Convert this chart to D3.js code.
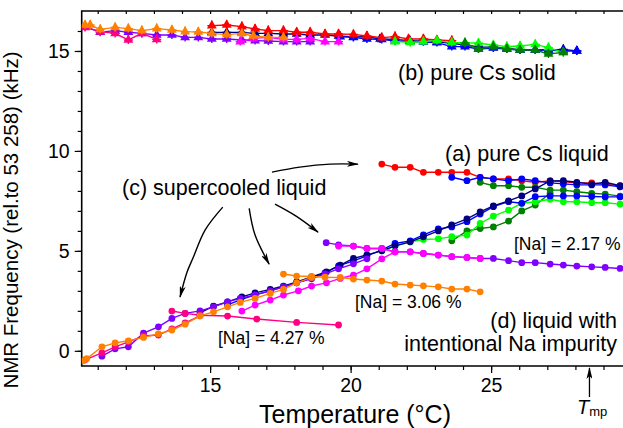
<!DOCTYPE html>
<html>
<head>
<meta charset="utf-8">
<script src="https://cdn.jsdelivr.net/npm/d3@7"></script>
<style>
  body { margin: 0; background: #fff; }
  svg { font-family: "Liberation Sans", Arial, sans-serif; }
</style>
</head>
<body>
<script>
    // --- data: [temperature (°C), frequency (kHz)] ---
    // (b) pure Cs solid
    var solidOrange = [[10.55,16.3],[10.73,16.3],[11.09,16.08],[11.62,16.18],[12.09,16.12],[12.57,16.02],[13.10,16.12],[13.64,16.05],[14.11,15.97],[14.58,15.95],[15.06,15.88],[15.59,15.82],[16.13,15.88],[16.54,15.75],[17.07,15.68],[17.61,15.68]];
    var solidPink = [[10.55,16.18],[11.09,15.97],[11.62,15.88],[12.09,15.55],[12.57,15.88],[13.10,15.58]];
    var solidPurple = [[10.55,16.22],[11.09,15.94],[11.62,16.02],[12.09,15.94],[12.57,15.88],[13.10,15.80],[13.64,15.80],[14.11,15.68],[14.58,15.68],[15.06,15.6],[15.59,15.6],[16.13,15.55],[16.6,15.52],[17.07,15.5],[17.61,15.47],[18.08,15.47],[18.56,15.47]];
    var solidRed = [[15.06,16.27],[15.59,16.30],[16.13,16.22],[16.6,16.10],[17.07,16.02],[17.61,16.02],[18.08,15.94],[18.56,15.94],[19.09,15.85],[19.57,15.85],[20.1,15.83],[20.58,15.75],[21.11,15.67],[21.58,15.72],[22.06,15.6],[22.59,15.6],[23.07,15.55],[23.6,15.52]];
    var solidNavy = [[15.06,15.93],[15.59,15.93],[16.13,15.93],[16.6,15.88],[17.07,15.88],[17.61,15.85],[18.08,15.85],[18.56,15.8],[19.09,15.8],[19.57,15.75],[20.1,15.7],[20.58,15.72],[21.05,15.6],[21.58,15.58],[22.1,15.52],[22.59,15.5],[23.07,15.46],[23.6,15.38],[24.07,15.3],[24.55,15.2],[25.08,15.18],[25.56,15.13],[26.03,15.05],[26.57,15.06],[27.04,15.05],[27.57,15.08],[28.05,15.0]];
    var solidMagenta = [[16.07,15.47],[16.54,15.63],[17.07,15.68],[17.61,15.58],[18.08,15.58],[18.56,15.63],[19.09,15.47],[19.57,15.47]];
    var solidBlue = [[19.63,15.72],[20.1,15.68],[20.58,15.6],[21.11,15.58],[21.58,15.5],[22.12,15.48],[22.59,15.45],[23.07,15.42],[23.6,15.22],[24.07,15.22],[24.55,15.1],[25.08,15.15],[25.56,15.1],[26.03,15.05],[26.57,15.05],[27.04,15.05],[27.57,15.0],[28.05,15.0]];
    var solidGreen = [[21.58,15.47],[22.12,15.43],[22.59,15.47],[23.07,15.52],[23.6,15.42],[24.07,15.42],[24.55,15.39],[25.08,15.3],[25.56,15.22],[26.03,15.25],[26.57,15.33],[27.04,15.17],[27.57,14.93]];
    var solidDkGreen = [[24.07,15.39],[24.55,15.1],[25.08,15.22],[25.56,15.1],[26.03,15.05],[26.57,15.05],[27.04,14.85],[27.57,14.93]];

    // (a) pure Cs liquid / supercooled liquid
    var liqRed = [[21.11,9.34],[21.58,9.18],[22.12,9.18],[22.59,8.93],[23.12,8.93],[23.6,8.93],[24.14,8.93],[24.61,8.68],[25.08,8.6],[25.62,8.6],[26.09,8.51],[26.57,8.43],[27.1,8.5],[27.57,8.45],[28.05,8.4],[28.58,8.4],[29.06,8.34],[29.59,8.25]];
    var liqBlue = [[23.6,8.68],[24.14,8.51],[24.61,8.68],[25.08,8.6],[25.62,8.51],[26.09,8.6],[26.57,8.51],[27.1,8.4],[27.57,8.35],[28.05,8.3],[28.58,8.3],[29.06,8.3],[29.59,8.2]];
    var liqDkGreen = [[24.61,8.43],[25.08,8.26],[25.62,8.26],[26.09,8.18],[26.57,8.18],[27.1,8.04],[27.57,8.04],[28.05,7.96],[28.58,7.88],[29.06,7.84],[29.59,7.74]];

    // rising branches
    var riseNavy = [[14.64,1.9],[15.12,2.24],[15.62,2.45],[16.13,2.70],[16.6,2.9],[17.14,3.07],[17.61,3.24],[18.08,3.45],[18.61,3.70],[19.14,3.95],[19.63,4.29],[20.1,4.62],[20.58,4.8],[21.11,5.0],[21.58,5.25],[22.12,5.45],[22.59,5.7],[23.12,6.0],[23.6,6.3],[24.14,6.6],[24.61,6.95],[25.08,7.25],[25.62,7.5],[26.09,7.75],[26.57,8.1],[27.1,8.5],[27.57,8.51],[28.05,8.43],[28.58,8.34],[29.06,8.43],[29.59,8.26]];
    var riseBlue = [[15.62,2.3],[16.07,2.55],[16.6,2.8],[17.14,3.0],[17.61,3.2],[18.08,3.4],[18.61,3.65],[19.09,3.9],[19.57,4.25],[20.1,4.5],[20.58,4.75],[21.11,5.05],[21.58,5.37],[22.12,5.5],[22.59,5.8],[23.12,6.1],[23.6,6.2],[24.14,6.46],[24.61,6.84],[25.08,7.21],[25.62,7.46],[26.09,7.38],[26.57,7.71],[27.1,7.75],[27.57,7.75],[28.05,7.75],[28.58,7.72],[29.06,7.7],[29.59,7.7]];
    var riseGreen = [[21.11,5.0],[21.58,5.24],[22.12,5.45],[22.59,5.57],[23.12,5.6],[23.6,5.71],[24.14,5.79],[24.61,6.37],[25.08,6.74],[25.62,7.04],[26.09,7.38],[26.57,7.46],[27.1,7.58],[27.57,7.46],[28.05,7.46],[28.58,7.41],[29.06,7.41],[29.59,7.34]];
    var riseDkGreen = [[23.6,5.5],[24.14,6.0],[24.61,6.12],[25.08,6.2],[25.62,6.49],[26.09,7.0],[26.57,7.29],[27.1,7.88]];
    var risePurple = [[11.15,-0.27],[11.62,0.10],[12.09,0.20],[12.63,0.88],[13.16,1.20],[13.64,1.62],[14.11,1.87],[14.64,2.0],[15.12,2.2],[15.62,2.45],[16.07,2.62],[16.6,2.8],[17.14,3.0],[17.61,3.2],[18.08,3.4],[18.61,3.6],[19.09,3.85],[19.57,4.1],[20.1,4.35],[20.58,4.6]];
    var riseOrange = [[10.49,-0.5],[10.61,-0.39],[11.15,0.20],[11.62,0.40],[12.09,0.50],[12.63,0.67],[13.16,0.85],[13.64,1.04],[14.11,1.33],[14.64,1.75],[15.12,1.95],[15.62,2.20],[16.07,2.42],[16.6,2.62],[17.14,2.87],[17.61,3.07],[18.08,3.40],[18.61,3.67]];
    var risePink = [[10.55,-0.45],[11.15,-0.1],[11.62,0.2],[12.09,0.45],[12.63,0.74],[13.16,0.79],[13.64,1.1],[14.11,1.4],[14.64,1.75]];
    var riseMagenta = [[16.13,1.99],[16.6,2.29],[17.14,2.54],[17.61,2.79],[18.14,3.0],[18.61,3.24],[19.14,3.40],[19.63,3.62],[20.1,3.79],[20.58,4.1],[21.11,4.6],[21.58,4.95]];

    // (d) liquid with Na impurity
    var na217 = [[19.13,5.41],[19.57,5.3],[20.1,5.24],[20.58,5.12],[21.11,5.12],[21.58,4.95],[22.12,4.95],[22.59,4.87],[23.12,4.79],[23.6,4.71],[24.14,4.67],[24.61,4.62],[25.08,4.62],[25.62,4.51],[26.09,4.41],[26.57,4.41],[27.1,4.34],[27.57,4.29],[28.05,4.24],[28.58,4.2],[29.06,4.17],[29.59,4.12]];
    var na217b = [[19.57,5.24],[20.1,5.24],[20.58,5.12],[21.11,5.12],[21.58,4.95],[22.12,4.95],[22.59,4.87],[23.12,4.79],[23.6,4.71],[24.14,4.67],[24.61,4.62]];
    var na306 = [[17.61,3.84],[18.08,3.74],[18.61,3.72],[19.09,3.68],[19.63,3.67],[20.1,3.59],[20.58,3.54],[21.11,3.49],[21.58,3.34],[22.12,3.29],[22.59,3.25],[23.12,3.2],[23.6,3.09],[24.14,3.09],[24.61,2.95]];
    var na427 = [[13.64,1.99],[14.11,1.87],[14.64,1.78],[15.62,1.74],[16.66,1.59],[18.08,1.42],[19.57,1.29]];

    var xTicks = [15, 20, 25];
    var yTicks = [0, 5, 10, 15];
    var tMelt = 28.5;

    var width = 623;
    var height = 428;
    var svg, xScale, yScale;

    var setup = () => {
        svg = d3.select('body').append('svg')
            .attr('width', width)
            .attr('height', height);

        xScale = d3.scaleLinear().domain([10.43, 29.8]).range([81.7, 626]);
        yScale = d3.scaleLinear().domain([-0.76, 17]).range([366, 11]);

        var defs = svg.append('defs');
        defs.append('marker')
            .attr('id', 'head')
            .attr('viewBox', '0 0 12 6')
            .attr('refX', 11).attr('refY', 3)
            .attr('markerWidth', 12).attr('markerHeight', 6)
            .attr('markerUnits', 'userSpaceOnUse')
            .attr('orient', 'auto')
            .append('path')
            .attr('d', 'M0,0 L12,3 L0,6 L3,3 z')
            .attr('fill', '#000');
        defs.append('clipPath').attr('id', 'plot')
            .append('rect').attr('x', 81.7).attr('y', 11).attr('width', 560).attr('height', 355);
    };

    var axes = () => {
        var minor = d3.range(11, 30);
        svg.append('g')
            .attr('transform', 'translate(0,366)')
            .call(d3.axisBottom(xScale).tickValues(minor).tickSize(4).tickFormat(''))
            .call(g => g.select('.domain').remove());
        svg.append('g')
            .attr('transform', 'translate(0,366)')
            .call(d3.axisBottom(xScale).tickValues(xTicks).tickSize(7).tickPadding(5))
            .call(g => g.select('.domain').remove())
            .selectAll('text').attr('font-size', 19.5).attr('fill', '#000').attr('font-family', 'Liberation Sans, Arial, sans-serif');
        svg.append('g')
            .attr('transform', 'translate(0,11)')
            .call(d3.axisBottom(xScale).tickValues(minor).tickSize(3).tickFormat(''))
            .call(g => g.select('.domain').remove());

        svg.append('g')
            .attr('transform', 'translate(81.7,0)')
            .call(d3.axisLeft(yScale).tickValues(d3.range(0, 17)).tickSize(4).tickFormat(''))
            .call(g => g.select('.domain').remove());
        svg.append('g')
            .attr('transform', 'translate(81.7,0)')
            .call(d3.axisLeft(yScale).tickValues(yTicks).tickSize(7).tickPadding(5))
            .call(g => g.select('.domain').remove())
            .selectAll('text').attr('font-size', 19.5).attr('fill', '#000').attr('font-family', 'Liberation Sans, Arial, sans-serif');

        svg.selectAll('.tick line').attr('stroke', '#000').attr('stroke-width', 1.2);

        // frame
        svg.append('path')
            .attr('d', 'M623,11 H81.7 V366 H623')
            .attr('fill', 'none')
            .attr('stroke', '#000')
            .attr('stroke-width', 1.6);

        svg.append('text')
            .attr('x', 355).attr('y', 423)
            .attr('text-anchor', 'middle')
            .attr('font-size', 25)
            .text('Temperature (°C)');

        svg.append('text')
            .attr('transform', 'translate(18,220) rotate(-90)')
            .attr('text-anchor', 'middle')
            .attr('font-size', 20.5)
            .text('NMR Frequency (rel.to 53 258) (kHz)');
    };

    var line = d3.line().x(d => xScale(d[0])).y(d => yScale(d[1]));

    var drawSeries = (data, color, shape) => {
        var g = svg.append('g').attr('clip-path', 'url(#plot)');
        g.append('path')
            .attr('d', line(data))
            .attr('fill', 'none')
            .attr('stroke', color)
            .attr('stroke-width', 1.4);
        if (shape === 'tri') {
            g.selectAll('path.tri')
                .data(data).enter()
                .append('path')
                .attr('class', 'tri')
                .attr('transform', d => 'translate(' + xScale(d[0]) + ',' + yScale(d[1]) + ')')
                .attr('d', d3.symbol(d3.symbolTriangle).size(42))
                .attr('fill', color);
            g.selectAll('path.crs')
                .data(data).enter()
                .append('path')
                .attr('class', 'crs')
                .attr('transform', d => 'translate(' + xScale(d[0]) + ',' + yScale(d[1]) + ')')
                .attr('d', 'M0,-5 V4 M-4.5,0 H4.5')
                .attr('stroke', color)
                .attr('stroke-width', 1.4);
        } else {
            g.selectAll('circle')
                .data(data).enter()
                .append('circle')
                .attr('cx', d => xScale(d[0]))
                .attr('cy', d => yScale(d[1]))
                .attr('r', 3.4)
                .attr('fill', color);
        }
    };

    var series = () => {
        drawSeries(solidNavy, '#000080', 'tri');
        drawSeries(solidBlue, '#0000ff', 'tri');
        drawSeries(solidRed, '#ff0000', 'tri');
        drawSeries(solidGreen, '#00ff00', 'tri');
        drawSeries(solidDkGreen, '#008000', 'tri');
        drawSeries(solidPurple, '#8000ff', 'tri');
        drawSeries(solidMagenta, '#ff00ff', 'tri');
        drawSeries(solidPink, '#ff0080', 'tri');
        drawSeries(solidOrange, '#ff8000', 'tri');

        drawSeries(liqRed, '#ff0000', 'dot');
        drawSeries(liqDkGreen, '#008000', 'dot');
        drawSeries(riseDkGreen, '#008000', 'dot');
        drawSeries(riseGreen, '#00ff00', 'dot');
        drawSeries(liqBlue, '#0000ff', 'dot');
        drawSeries(riseBlue, '#0000ff', 'dot');
        drawSeries(riseNavy, '#000080', 'dot');
        drawSeries(na217, '#8000ff', 'dot');
        drawSeries(na217b, '#ff00ff', 'dot');
        drawSeries(risePurple, '#8000ff', 'dot');
        drawSeries(riseMagenta, '#ff00ff', 'dot');
        drawSeries(na427, '#ff0080', 'dot');
        drawSeries(risePink, '#ff0080', 'dot');
        drawSeries(riseOrange, '#ff8000', 'dot');
        drawSeries(na306, '#ff8000', 'dot');
    };

    var notes = () => {
        var txt = (x, y, s, size, anchor) => svg.append('text')
            .attr('x', x).attr('y', y)
            .attr('font-size', size)
            .attr('text-anchor', anchor || 'start')
            .text(s);
        txt(398, 80, '(b) pure Cs solid', 21.5);
        txt(445, 161, '(a) pure Cs liquid', 21.5);
        txt(122, 195, '(c) supercooled liquid', 21.5);
        txt(514, 250, '[Na] = 2.17 %', 17.5);
        txt(355, 308, '[Na] = 3.06 %', 17.5);
        txt(218, 344, '[Na] = 4.27 %', 17.5);
        txt(617, 328, '(d) liquid with', 21.5, 'end');
        txt(617, 351, 'intentional Na impurity', 21.5, 'end');

        // arrows from (c) label, anchored in data units
        var arrows = [
            [[17.20, 8.94], [18.19, 9.19], [19.27, 9.34], [20.26, 9.34]],
            [[17.31, 7.34], [18.06, 6.74], [18.84, 5.94]],
            [[16.39, 7.13], [16.60, 5.79], [17.10, 4.34]],
            [[15.45, 7.19], [14.82, 6.04], [14.39, 4.64], [14.18, 3.94], [13.93, 2.69]]
        ];
        var curve = d3.line().x(d => xScale(d[0])).y(d => yScale(d[1])).curve(d3.curveCatmullRom);
        svg.selectAll('path.arrow')
            .data(arrows).enter()
            .append('path')
            .attr('class', 'arrow')
            .attr('d', d => curve(d))
            .attr('fill', 'none')
            .attr('stroke', '#000')
            .attr('stroke-width', 1.4)
            .attr('marker-end', 'url(#head)');

        // melting point marker
        svg.append('line')
            .attr('x1', xScale(tMelt)).attr('x2', xScale(tMelt))
            .attr('y1', 397).attr('y2', 368)
            .attr('stroke', '#000')
            .attr('stroke-width', 1.3)
            .attr('marker-end', 'url(#head)');
        var t = svg.append('text').attr('x', 577).attr('y', 414).attr('font-size', 20);
        t.append('tspan').attr('font-style', 'italic').text('T');
        t.append('tspan').attr('font-size', 13).attr('dy', 2).text('mp');
    };

    setup();
    axes();
    series();
    notes();
</script>
</body>
</html>
